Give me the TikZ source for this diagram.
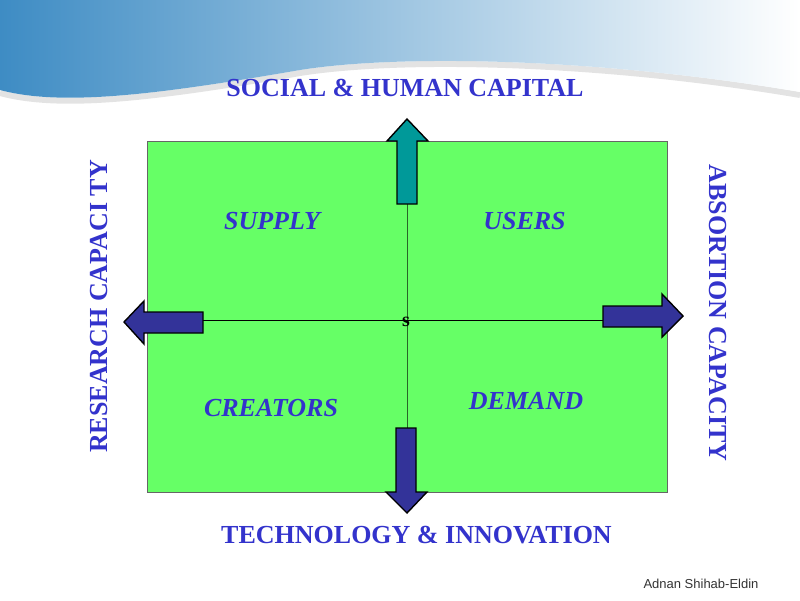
\documentclass[tikz,border=0pt]{standalone}
\usepackage{fontspec}
\setmainfont{Liberation Serif}
\newfontfamily\authorfont{Liberation Sans}
\usetikzlibrary{positioning}

\definecolor{bannerblue}{RGB}{62,140,196}
\definecolor{textblue}{RGB}{51,51,204}
\definecolor{boardgreen}{RGB}{102,255,102}
\definecolor{tealarrow}{RGB}{0,153,153}
\definecolor{navyarrow}{RGB}{51,51,153}
\definecolor{axisgreen}{RGB}{40,100,40}

\begin{document}
\begin{tikzpicture}[x=1pt,y=-1pt,
  axis label/.style={text=textblue,font=\fontsize{26}{30}\selectfont\bfseries,inner sep=0pt,anchor=base},
  quad label/.style={text=textblue,font=\fontsize{26}{30}\selectfont\bfseries\itshape,inner sep=0pt,anchor=base},
  block arrow/.style={draw=black,line width=1.4pt,line join=miter}]

  \useasboundingbox (0,0) rectangle (800,600);

  % banner
  \draw[gray!22,line width=6pt] (0,93) .. controls (60,109) and (150,99) .. (300,73)
    .. controls (400,57) and (600,61) .. (800,95);
  \shade[left color=bannerblue,right color=white] (0,0) -- (0,90)
    .. controls (60,106) and (150,96) .. (300,70)
    .. controls (400,54) and (600,58) .. (800,92) -- (800,0) -- cycle;

  % board
  \node[draw=black!60,fill=boardgreen,line width=0.8pt,minimum width=520pt,
    minimum height=351pt,inner sep=0pt] (board) at (407,316.5) {};
  \coordinate (hub) at (407,320);
  \draw[axisgreen,line width=0.9pt] (board.north) -- (board.south);
  \draw[black,line width=0.8pt] (hub -| board.west) -- (hub -| board.east);

  % arrows
  \draw[block arrow,fill=tealarrow] (397,204) -- (397,141) -- (387,141) -- (407,119)
    -- (428,141) -- (417,141) -- (417,204) -- cycle;
  \draw[block arrow,fill=navyarrow] (396,428) -- (416,428) -- (416,492) -- (427,492)
    -- (407,513) -- (386,492) -- (396,492) -- cycle;
  \draw[block arrow,fill=navyarrow] (203,312) -- (144,312) -- (144,301) -- (124,322)
    -- (144,344) -- (144,333) -- (203,333) -- cycle;
  \draw[block arrow,fill=navyarrow] (603,306) -- (662,306) -- (662,294) -- (683,316)
    -- (662,337) -- (662,327) -- (603,327) -- cycle;

  % labels
  \node[axis label] (social) at (405,96) {SOCIAL \& HUMAN CAPITAL};
  \node[axis label] (tech) at (416.5,543) {TECHNOLOGY \& INNOVATION};
  \node[axis label,rotate=90] (research) at (107,306.5) {RESEARCH CAPACI TY};
  \node[axis label,rotate=-90] (absorb) at (709,313) {ABSORTION CAPACITY};

  \node[quad label] (supply) at (272,229) {SUPPLY};
  \node[quad label] (users) at (524.5,229) {USERS};
  \node[quad label] (creators) at (271,416) {CREATORS};
  \node[quad label] (demand) at (526,409) {DEMAND};

  \node[font=\fontsize{20}{22}\selectfont\bfseries,inner sep=0pt,anchor=base] (s) at (406,326) {s};
  \node[font=\authorfont\fontsize{13}{15}\selectfont,text=black!80,inner sep=0pt,anchor=base]
    (author) at (701,588) {Adnan Shihab-Eldin};

\end{tikzpicture}
\end{document}
